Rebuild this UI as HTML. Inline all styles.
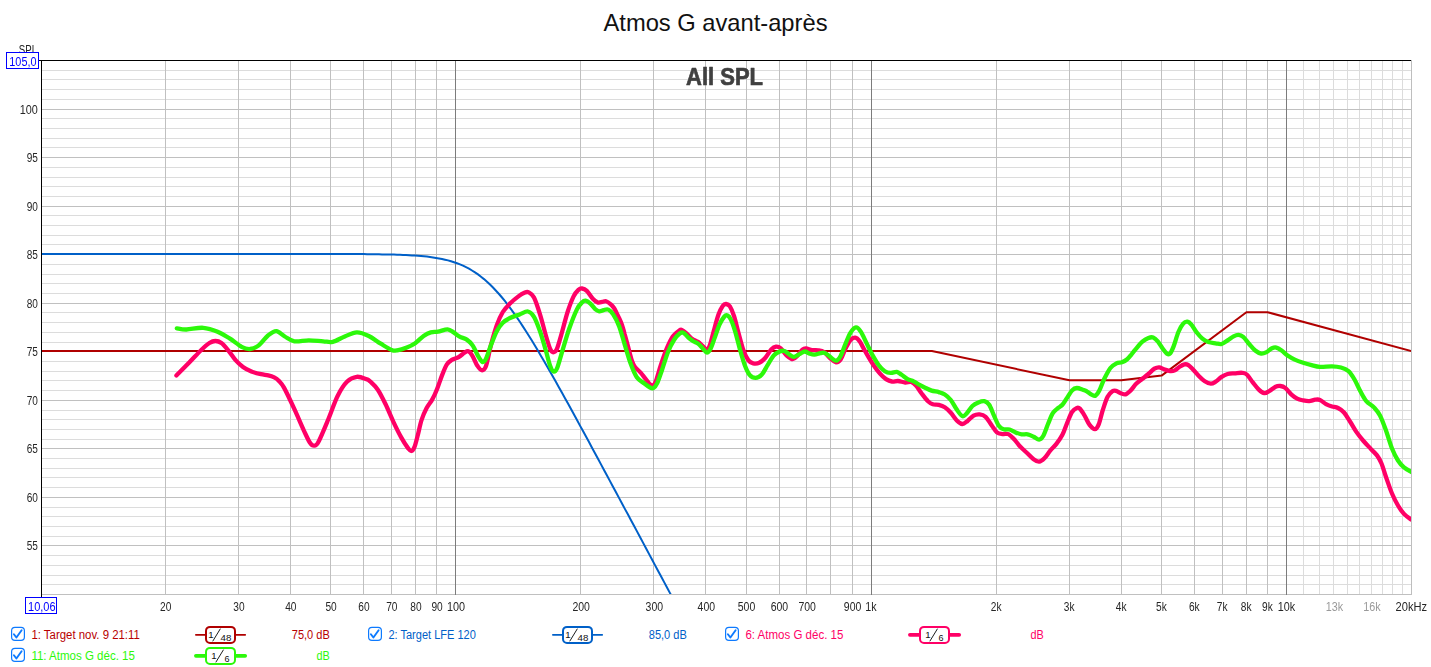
<!DOCTYPE html>
<html lang="fr"><head><meta charset="utf-8"><title>Atmos G avant-après</title>
<style>html,body{margin:0;padding:0;background:#fff;}body{width:1431px;height:667px;overflow:hidden;position:relative;}svg{display:block;position:absolute;left:0;top:0;}svg.graph{will-change:transform;}text{font-family:"Liberation Sans", Arial, sans-serif;}</style></head><body>
<svg class="chrome" width="1431" height="667" viewBox="0 0 1431 667">
<text id="title" x="715.5" y="30.6" text-anchor="middle" font-size="24" fill="#111" textLength="224" lengthAdjust="spacingAndGlyphs">Atmos G avant-après</text>
<rect x="11.6" y="627.4" width="12.8" height="13" rx="3.4" ry="3.4" fill="#fff" stroke="#0d7aff" stroke-width="1.2"/>
<path d="M13.9,634.2 L16.4,637.5 L21.6,630.3" fill="none" stroke="#0d7aff" stroke-width="1.9" stroke-linecap="round" stroke-linejoin="round"/>
<text x="31.4" y="639.0" font-size="12" fill="#b80000" textLength="108.5" lengthAdjust="spacingAndGlyphs">1: Target nov. 9 21:11</text>
<line x1="195.9" y1="634.8" x2="245.2" y2="634.8" stroke="#b00000" stroke-width="1.8" stroke-linecap="round"/>
<rect x="206.0" y="626.9" width="29" height="16" rx="4" ry="4" fill="#fff" stroke="#b00000" stroke-width="2"/>
<text x="208.2" y="638.1" font-size="9.6" fill="#111">1</text>
<line x1="212.7" y1="641.3" x2="220.4" y2="628.7" stroke="#111" stroke-width="0.95"/>
<text x="220.5" y="640.6" font-size="9" fill="#111" textLength="10.8" lengthAdjust="spacingAndGlyphs">48</text>
<text x="329.8" y="639.0" text-anchor="end" font-size="12" fill="#b80000" textLength="38.0" lengthAdjust="spacingAndGlyphs">75,0 dB</text>
<rect x="368.6" y="627.4" width="12.8" height="13" rx="3.4" ry="3.4" fill="#fff" stroke="#0d7aff" stroke-width="1.2"/>
<path d="M370.9,634.2 L373.4,637.5 L378.6,630.3" fill="none" stroke="#0d7aff" stroke-width="1.9" stroke-linecap="round" stroke-linejoin="round"/>
<text x="388.4" y="639.0" font-size="12" fill="#0060c8" textLength="87.5" lengthAdjust="spacingAndGlyphs">2: Target LFE 120</text>
<line x1="552.9" y1="634.8" x2="602.2" y2="634.8" stroke="#0060c8" stroke-width="1.8" stroke-linecap="round"/>
<rect x="563.0" y="626.9" width="29" height="16" rx="4" ry="4" fill="#fff" stroke="#0060c8" stroke-width="2"/>
<text x="565.2" y="638.1" font-size="9.6" fill="#111">1</text>
<line x1="569.7" y1="641.3" x2="577.4" y2="628.7" stroke="#111" stroke-width="0.95"/>
<text x="577.5" y="640.6" font-size="9" fill="#111" textLength="10.8" lengthAdjust="spacingAndGlyphs">48</text>
<text x="686.8" y="639.0" text-anchor="end" font-size="12" fill="#0060c8" textLength="38.0" lengthAdjust="spacingAndGlyphs">85,0 dB</text>
<rect x="725.6" y="627.4" width="12.8" height="13" rx="3.4" ry="3.4" fill="#fff" stroke="#0d7aff" stroke-width="1.2"/>
<path d="M727.9,634.2 L730.4,637.5 L735.6,630.3" fill="none" stroke="#0d7aff" stroke-width="1.9" stroke-linecap="round" stroke-linejoin="round"/>
<text x="745.4" y="639.0" font-size="12" fill="#ff0066" textLength="98.0" lengthAdjust="spacingAndGlyphs">6: Atmos G déc. 15</text>
<line x1="909.9" y1="634.8" x2="959.2" y2="634.8" stroke="#ff0066" stroke-width="3.7" stroke-linecap="round"/>
<rect x="920.0" y="626.9" width="29" height="16" rx="4" ry="4" fill="#fff" stroke="#ff0066" stroke-width="2"/>
<text x="925.3" y="638.1" font-size="9.6" fill="#111">1</text>
<line x1="929.8" y1="641.3" x2="937.5" y2="628.7" stroke="#111" stroke-width="0.95"/>
<text x="938.6" y="640.6" font-size="9" fill="#111">6</text>
<text x="1043.8" y="639.0" text-anchor="end" font-size="12" fill="#ff0066" textLength="13.3" lengthAdjust="spacingAndGlyphs">dB</text>
<rect x="11.6" y="648.4" width="12.8" height="13" rx="3.4" ry="3.4" fill="#fff" stroke="#0d7aff" stroke-width="1.2"/>
<path d="M13.9,655.2 L16.4,658.5 L21.6,651.3" fill="none" stroke="#0d7aff" stroke-width="1.9" stroke-linecap="round" stroke-linejoin="round"/>
<text x="31.4" y="660.0" font-size="12" fill="#2cf80a" textLength="103.5" lengthAdjust="spacingAndGlyphs">11: Atmos G déc. 15</text>
<line x1="195.9" y1="655.8" x2="245.2" y2="655.8" stroke="#2cf80a" stroke-width="3.7" stroke-linecap="round"/>
<rect x="206.0" y="647.9" width="29" height="16" rx="4" ry="4" fill="#fff" stroke="#2cf80a" stroke-width="2"/>
<text x="211.3" y="659.1" font-size="9.6" fill="#111">1</text>
<line x1="215.8" y1="662.3" x2="223.5" y2="649.7" stroke="#111" stroke-width="0.95"/>
<text x="224.6" y="661.6" font-size="9" fill="#111">6</text>
<text x="329.8" y="660.0" text-anchor="end" font-size="12" fill="#2cf80a" textLength="13.3" lengthAdjust="spacingAndGlyphs">dB</text>
</svg>
<svg class="graph" width="1431" height="667" viewBox="0 0 1431 667">
<g shape-rendering="crispEdges">
<rect x="42" y="584" width="1369" height="1" fill="#dcdcdc"/>
<rect x="42" y="575" width="1369" height="1" fill="#dcdcdc"/>
<rect x="42" y="565" width="1369" height="1" fill="#dcdcdc"/>
<rect x="42" y="555" width="1369" height="1" fill="#dcdcdc"/>
<rect x="42" y="536" width="1369" height="1" fill="#dcdcdc"/>
<rect x="42" y="526" width="1369" height="1" fill="#dcdcdc"/>
<rect x="42" y="516" width="1369" height="1" fill="#dcdcdc"/>
<rect x="42" y="507" width="1369" height="1" fill="#dcdcdc"/>
<rect x="42" y="487" width="1369" height="1" fill="#dcdcdc"/>
<rect x="42" y="477" width="1369" height="1" fill="#dcdcdc"/>
<rect x="42" y="468" width="1369" height="1" fill="#dcdcdc"/>
<rect x="42" y="458" width="1369" height="1" fill="#dcdcdc"/>
<rect x="42" y="439" width="1369" height="1" fill="#dcdcdc"/>
<rect x="42" y="429" width="1369" height="1" fill="#dcdcdc"/>
<rect x="42" y="419" width="1369" height="1" fill="#dcdcdc"/>
<rect x="42" y="410" width="1369" height="1" fill="#dcdcdc"/>
<rect x="42" y="390" width="1369" height="1" fill="#dcdcdc"/>
<rect x="42" y="380" width="1369" height="1" fill="#dcdcdc"/>
<rect x="42" y="371" width="1369" height="1" fill="#dcdcdc"/>
<rect x="42" y="361" width="1369" height="1" fill="#dcdcdc"/>
<rect x="42" y="342" width="1369" height="1" fill="#dcdcdc"/>
<rect x="42" y="332" width="1369" height="1" fill="#dcdcdc"/>
<rect x="42" y="322" width="1369" height="1" fill="#dcdcdc"/>
<rect x="42" y="312" width="1369" height="1" fill="#dcdcdc"/>
<rect x="42" y="293" width="1369" height="1" fill="#dcdcdc"/>
<rect x="42" y="283" width="1369" height="1" fill="#dcdcdc"/>
<rect x="42" y="274" width="1369" height="1" fill="#dcdcdc"/>
<rect x="42" y="264" width="1369" height="1" fill="#dcdcdc"/>
<rect x="42" y="244" width="1369" height="1" fill="#dcdcdc"/>
<rect x="42" y="235" width="1369" height="1" fill="#dcdcdc"/>
<rect x="42" y="225" width="1369" height="1" fill="#dcdcdc"/>
<rect x="42" y="215" width="1369" height="1" fill="#dcdcdc"/>
<rect x="42" y="196" width="1369" height="1" fill="#dcdcdc"/>
<rect x="42" y="186" width="1369" height="1" fill="#dcdcdc"/>
<rect x="42" y="177" width="1369" height="1" fill="#dcdcdc"/>
<rect x="42" y="167" width="1369" height="1" fill="#dcdcdc"/>
<rect x="42" y="147" width="1369" height="1" fill="#dcdcdc"/>
<rect x="42" y="138" width="1369" height="1" fill="#dcdcdc"/>
<rect x="42" y="128" width="1369" height="1" fill="#dcdcdc"/>
<rect x="42" y="118" width="1369" height="1" fill="#dcdcdc"/>
<rect x="42" y="99" width="1369" height="1" fill="#dcdcdc"/>
<rect x="42" y="89" width="1369" height="1" fill="#dcdcdc"/>
<rect x="42" y="79" width="1369" height="1" fill="#dcdcdc"/>
<rect x="42" y="70" width="1369" height="1" fill="#dcdcdc"/>
<rect x="1303" y="61" width="1" height="533" fill="#dcdcdc"/>
<rect x="1319" y="61" width="1" height="533" fill="#dcdcdc"/>
<rect x="1333" y="61" width="1" height="533" fill="#dcdcdc"/>
<rect x="1347" y="61" width="1" height="533" fill="#dcdcdc"/>
<rect x="1359" y="61" width="1" height="533" fill="#dcdcdc"/>
<rect x="1371" y="61" width="1" height="533" fill="#dcdcdc"/>
<rect x="1382" y="61" width="1" height="533" fill="#dcdcdc"/>
<rect x="1392" y="61" width="1" height="533" fill="#dcdcdc"/>
<rect x="1402" y="61" width="1" height="533" fill="#dcdcdc"/>
<rect x="1411" y="60" width="1" height="535" fill="#bebebe"/>
<rect x="42" y="594" width="1370" height="1" fill="#c0c0c0"/>
<rect x="42" y="545" width="1370" height="1" fill="#c0c0c0"/>
<rect x="42" y="497" width="1370" height="1" fill="#c0c0c0"/>
<rect x="42" y="448" width="1370" height="1" fill="#c0c0c0"/>
<rect x="42" y="400" width="1370" height="1" fill="#c0c0c0"/>
<rect x="42" y="351" width="1370" height="1" fill="#c0c0c0"/>
<rect x="42" y="303" width="1370" height="1" fill="#c0c0c0"/>
<rect x="42" y="254" width="1370" height="1" fill="#c0c0c0"/>
<rect x="42" y="206" width="1370" height="1" fill="#c0c0c0"/>
<rect x="42" y="157" width="1370" height="1" fill="#c0c0c0"/>
<rect x="42" y="109" width="1370" height="1" fill="#c0c0c0"/>
<rect x="165" y="61" width="1" height="534" fill="#c0c0c0"/>
<rect x="238" y="61" width="1" height="534" fill="#c0c0c0"/>
<rect x="290" y="61" width="1" height="534" fill="#c0c0c0"/>
<rect x="330" y="61" width="1" height="534" fill="#c0c0c0"/>
<rect x="363" y="61" width="1" height="534" fill="#c0c0c0"/>
<rect x="391" y="61" width="1" height="534" fill="#c0c0c0"/>
<rect x="415" y="61" width="1" height="534" fill="#c0c0c0"/>
<rect x="436" y="61" width="1" height="534" fill="#c0c0c0"/>
<rect x="580" y="61" width="1" height="534" fill="#c0c0c0"/>
<rect x="653" y="61" width="1" height="534" fill="#c0c0c0"/>
<rect x="705" y="61" width="1" height="534" fill="#c0c0c0"/>
<rect x="746" y="61" width="1" height="534" fill="#c0c0c0"/>
<rect x="779" y="61" width="1" height="534" fill="#c0c0c0"/>
<rect x="806" y="61" width="1" height="534" fill="#c0c0c0"/>
<rect x="830" y="61" width="1" height="534" fill="#c0c0c0"/>
<rect x="852" y="61" width="1" height="534" fill="#c0c0c0"/>
<rect x="996" y="61" width="1" height="534" fill="#c0c0c0"/>
<rect x="1069" y="61" width="1" height="534" fill="#c0c0c0"/>
<rect x="1121" y="61" width="1" height="534" fill="#c0c0c0"/>
<rect x="1161" y="61" width="1" height="534" fill="#c0c0c0"/>
<rect x="1194" y="61" width="1" height="534" fill="#c0c0c0"/>
<rect x="1222" y="61" width="1" height="534" fill="#c0c0c0"/>
<rect x="1246" y="61" width="1" height="534" fill="#c0c0c0"/>
<rect x="1267" y="61" width="1" height="534" fill="#c0c0c0"/>
<rect x="455" y="61" width="1" height="534" fill="#7c7c7c"/>
<rect x="871" y="61" width="1" height="534" fill="#7c7c7c"/>
<rect x="1286" y="61" width="1" height="534" fill="#7c7c7c"/>
</g>
<text id="allspl" x="724.5" y="84.8" text-anchor="middle" font-size="24.5" font-weight="bold" fill="#404040" stroke="#404040" stroke-width="0.7" stroke-linejoin="round" textLength="77" lengthAdjust="spacingAndGlyphs">All SPL</text>
<clipPath id="pc"><rect x="42" y="61" width="1369" height="533"/></clipPath>
<g clip-path="url(#pc)" fill="none" stroke-linejoin="round" stroke-linecap="round">
<polyline stroke="#b00000" stroke-width="2" points="40.0,351.1 931.9,351.1 1069.4,380.2 1121.3,380.2 1161.6,375.6 1246.4,312.2 1267.6,312.2 1411.7,351.1"/>
<polyline stroke="#0060c8" stroke-width="2" points="40.0,254.0 43.0,254.0 46.0,254.0 49.0,254.0 52.0,254.0 55.0,254.0 58.0,254.0 61.0,254.0 64.0,254.0 67.0,254.0 70.0,254.0 73.0,254.0 76.0,254.0 79.0,254.0 82.0,254.0 85.0,254.0 88.0,254.0 91.0,254.0 94.0,254.0 97.0,254.0 100.0,254.0 103.0,254.0 106.0,254.0 109.0,254.0 112.0,254.0 115.0,254.0 118.0,254.0 121.0,254.0 124.0,254.0 127.0,254.0 130.0,254.0 133.0,254.0 136.0,254.0 139.0,254.0 142.0,254.0 145.0,254.0 148.0,254.0 151.0,254.0 154.0,254.0 157.0,254.0 160.0,254.0 163.0,254.0 166.0,254.0 169.0,254.0 172.0,254.0 175.0,254.0 178.0,254.0 181.0,254.0 184.0,254.0 187.0,254.0 190.0,254.0 193.0,254.0 196.0,254.0 199.0,254.0 202.0,254.0 205.0,254.0 208.0,254.0 211.0,254.0 214.0,254.0 217.0,254.0 220.0,254.0 223.0,254.0 226.0,254.0 229.0,254.0 232.0,254.0 235.0,254.0 238.0,254.0 241.0,254.0 244.0,254.0 247.0,254.0 250.0,254.0 253.0,254.0 256.0,254.0 259.0,254.0 262.0,254.0 265.0,254.0 268.0,254.0 271.0,254.0 274.0,254.0 277.0,254.0 280.0,254.0 283.0,254.0 286.0,254.0 289.0,254.0 292.0,254.0 295.0,254.0 298.0,254.0 301.0,254.0 304.0,254.0 307.0,254.0 310.0,254.0 313.0,254.0 316.0,254.0 319.0,254.0 322.0,254.0 325.0,254.0 328.0,254.0 331.0,254.0 334.0,254.0 337.0,254.0 340.0,254.0 343.0,254.0 346.0,254.1 349.0,254.1 352.0,254.1 355.0,254.1 358.0,254.1 361.0,254.1 364.0,254.1 367.0,254.2 370.0,254.2 373.0,254.2 376.0,254.3 379.0,254.3 382.0,254.4 385.0,254.4 388.0,254.5 391.0,254.5 394.0,254.6 397.0,254.7 400.0,254.8 403.0,254.9 406.0,255.0 409.0,255.2 412.0,255.4 415.0,255.6 418.0,255.8 421.0,256.0 424.0,256.3 427.0,256.6 430.0,257.0 433.0,257.4 436.0,257.9 439.0,258.4 442.0,259.0 445.0,259.7 448.0,260.4 451.0,261.3 454.0,262.2 457.0,263.3 460.0,264.4 463.0,265.7 466.0,267.2 469.0,268.7 472.0,270.5 475.0,272.4 478.0,274.4 481.0,276.7 484.0,279.1 487.0,281.7 490.0,284.5 493.0,287.5 496.0,290.7 499.0,294.0 502.0,297.5 505.0,301.2 508.0,305.1 511.0,309.1 514.0,313.3 517.0,317.6 520.0,322.0 523.0,326.6 526.0,331.2 529.0,336.0 532.0,340.8 535.0,345.8 538.0,350.8 541.0,355.9 544.0,361.0 547.0,366.2 550.0,371.4 553.0,376.7 556.0,382.0 559.0,387.4 562.0,392.8 565.0,398.2 568.0,403.6 571.0,409.1 574.0,414.6 577.0,420.0 580.0,425.6 583.0,431.1 586.0,436.6 589.0,442.1 592.0,447.7 595.0,453.2 598.0,458.8 601.0,464.4 604.0,469.9 607.0,475.5 610.0,481.1 613.0,486.7 616.0,492.3 619.0,497.9 622.0,503.5 625.0,509.1 628.0,514.6 631.0,520.2 634.0,525.8 637.0,531.4 640.0,537.0 643.0,542.6 646.0,548.3 649.0,553.9 652.0,559.5 655.0,565.1 658.0,570.7 661.0,576.3 664.0,581.9 667.0,587.5 670.0,593.1 673.0,598.7 676.0,604.3 679.0,609.9 682.0,615.5 685.0,621.1 688.0,626.7 691.0,632.3 694.0,638.0 697.0,643.6"/>
<path stroke="#ff0066" stroke-width="4.3" d="M176.4,375.4C178.5,373.3 184.9,367.0 189.0,362.8C193.1,358.6 197.6,353.5 201.0,350.2C204.4,346.9 207.0,344.5 209.4,343.0C211.8,341.5 213.4,341.0 215.4,341.0C217.4,341.0 219.2,341.4 221.4,343.0C223.6,344.6 226.2,347.9 228.6,350.8C231.0,353.7 233.4,357.7 235.8,360.4C238.2,363.1 240.4,365.1 243.0,367.0C245.6,368.9 248.4,370.3 251.4,371.5C254.4,372.7 258.2,373.6 261.0,374.2C263.8,374.8 266.0,374.9 268.2,375.4C270.4,375.9 272.4,376.5 274.2,377.4C276.0,378.3 277.4,379.3 279.0,381.0C280.6,382.7 281.4,382.9 284.0,387.6C286.6,392.3 291.1,402.0 294.4,409.2C297.7,416.4 301.4,425.2 304.0,430.8C306.6,436.4 308.3,440.3 310.0,442.8C311.7,445.3 312.6,445.8 314.0,445.7C315.4,445.6 316.1,446.3 318.4,442.0C320.7,437.7 324.8,427.7 328.0,420.0C331.2,412.3 334.4,402.4 337.6,396.0C340.8,389.6 344.0,384.8 347.2,381.6C350.4,378.4 353.6,377.2 356.8,376.8C360.0,376.4 364.2,378.4 366.4,379.2C368.6,379.9 368.1,379.6 370.0,381.3C371.9,383.1 375.2,385.9 377.8,389.7C380.4,393.5 383.0,398.9 385.6,404.3C388.2,409.7 390.8,416.3 393.4,421.8C396.0,427.3 398.8,433.0 401.2,437.4C403.6,441.8 406.3,445.8 408.0,448.1C409.7,450.4 410.2,451.2 411.3,451.0C412.4,450.8 413.3,449.7 414.4,447.1C415.5,444.5 416.5,440.0 417.7,435.5C418.9,431.0 420.1,424.4 421.6,419.9C423.1,415.3 424.7,411.6 426.5,408.2C428.3,404.8 430.5,402.6 432.3,399.4C434.1,396.1 435.6,392.8 437.2,388.7C438.8,384.6 440.5,379.2 442.1,375.1C443.7,371.1 445.3,366.9 446.9,364.4C448.5,361.9 449.9,361.1 451.8,359.9C453.8,358.7 456.5,358.3 458.6,357.1C460.7,355.9 462.9,353.7 464.5,352.7C466.1,351.7 467.1,350.8 468.4,351.3C469.7,351.8 470.9,353.3 472.3,355.6C473.8,357.9 475.6,362.9 477.1,365.3C478.7,367.7 480.1,370.0 481.6,370.2C483.1,370.4 484.4,370.4 485.9,366.3C487.4,362.2 489.0,352.5 490.8,345.6C492.6,338.8 494.8,330.8 496.8,325.2C498.8,319.6 500.6,315.6 502.8,312.0C505.0,308.4 507.4,306.2 510.0,303.6C512.6,301.0 516.0,298.2 518.4,296.4C520.8,294.6 522.7,293.5 524.4,292.8C526.1,292.1 527.1,291.5 528.7,292.3C530.3,293.1 532.1,293.9 534.0,297.6C535.9,301.3 538.0,308.0 540.0,314.4C542.0,320.8 544.3,330.2 546.0,336.0C547.7,341.8 549.1,346.5 550.3,349.2C551.5,351.9 552.1,352.3 553.2,352.3C554.3,352.3 555.4,352.3 556.8,349.2C558.2,346.1 559.8,339.8 561.6,333.6C563.4,327.4 565.6,318.2 567.6,312.0C569.6,305.8 571.8,300.1 573.6,296.4C575.4,292.7 577.0,291.2 578.4,289.9C579.8,288.6 580.6,288.3 582.0,288.5C583.4,288.7 585.0,289.2 586.8,290.9C588.6,292.6 591.0,296.9 592.8,298.8C594.6,300.7 596.0,301.9 597.6,302.4C599.2,302.9 601.0,302.1 602.4,301.9C603.8,301.7 604.6,300.8 606.0,301.2C607.4,301.6 609.5,303.2 610.8,304.3C612.1,305.4 613.0,306.5 614.0,308.0C615.0,309.5 615.9,311.7 616.8,313.5C617.7,315.3 618.6,317.1 619.5,319.0C620.4,320.9 621.1,322.5 622.0,325.0C622.9,327.5 623.8,331.0 624.6,334.0C625.5,337.0 626.3,339.9 627.1,343.0C627.9,346.1 628.8,349.5 629.6,352.5C630.4,355.5 631.1,358.6 632.0,361.0C632.9,363.4 633.4,364.9 634.8,366.8C636.2,368.7 638.7,370.5 640.4,372.4C642.1,374.3 643.6,376.4 645.2,378.4C646.8,380.4 648.7,383.2 650.0,384.4C651.3,385.6 652.1,386.2 653.1,385.6C654.1,385.0 654.7,384.2 656.0,380.8C657.3,377.4 659.0,370.6 660.8,365.2C662.6,359.8 664.8,353.2 666.8,348.4C668.8,343.6 670.8,339.3 672.8,336.4C674.8,333.5 677.3,332.0 678.8,330.9C680.3,329.8 680.5,329.4 681.9,329.9C683.3,330.4 685.5,332.5 687.2,334.0C688.9,335.5 690.2,337.5 692.0,338.8C693.8,340.1 696.2,340.7 698.0,341.9C699.8,343.1 701.3,344.7 702.8,346.0C704.3,347.3 705.7,349.8 706.9,349.6C708.1,349.4 708.9,347.8 710.0,344.8C711.1,341.8 712.2,336.6 713.6,331.6C715.0,326.6 716.9,319.1 718.4,314.8C719.9,310.5 721.4,307.7 722.7,305.9C724.0,304.1 724.9,303.9 726.1,304.0C727.3,304.1 728.6,304.4 729.9,306.4C731.2,308.4 732.5,311.4 734.0,316.0C735.5,320.6 737.2,328.2 738.8,334.0C740.4,339.8 742.0,346.4 743.6,350.8C745.2,355.2 746.8,358.3 748.4,360.4C750.0,362.5 751.4,362.9 753.2,363.3C755.0,363.7 757.2,363.7 759.2,362.8C761.2,361.9 763.2,360.2 765.2,358.0C767.2,355.8 769.4,351.5 771.2,349.6C773.0,347.7 774.4,346.9 776.0,346.7C777.6,346.5 779.0,346.9 780.8,348.4C782.6,349.9 784.8,353.8 786.8,355.6C788.8,357.4 791.0,359.2 792.8,359.2C794.6,359.2 796.0,357.2 797.6,355.6C799.2,354.0 801.0,350.8 802.4,349.6C803.8,348.4 804.4,348.3 806.0,348.4C807.6,348.5 810.0,349.8 812.0,350.1C814.0,350.4 816.0,350.0 818.0,350.3C820.0,350.6 822.0,350.7 824.0,352.0C826.0,353.3 828.0,356.3 830.0,358.0C832.0,359.7 834.2,362.1 836.0,362.3C837.8,362.5 839.2,361.5 840.8,359.2C842.4,356.9 844.0,351.6 845.6,348.4C847.2,345.2 848.8,341.8 850.4,340.0C852.0,338.2 853.8,337.4 855.3,337.6C856.8,337.8 857.9,338.8 859.6,341.2C861.3,343.6 863.4,348.2 865.6,352.0C867.8,355.8 870.4,360.4 872.8,364.0C875.2,367.6 877.8,371.1 880.0,373.6C882.2,376.1 884.0,377.8 886.0,379.1C888.0,380.4 890.0,381.2 892.0,381.5C894.0,381.8 895.8,380.8 898.0,381.0C900.2,381.2 903.0,382.3 905.2,382.5C907.4,382.7 909.4,381.5 911.2,382.0C913.0,382.5 914.2,383.6 916.0,385.6C917.8,387.6 920.0,391.4 922.0,394.0C924.0,396.6 926.2,399.5 928.0,401.2C929.8,402.9 931.0,403.7 932.8,404.3C934.6,404.9 936.8,404.3 938.8,404.8C940.8,405.3 942.8,405.9 944.8,407.2C946.8,408.5 948.8,410.5 950.8,412.7C952.8,414.9 954.9,418.5 956.8,420.4C958.7,422.3 960.5,423.9 962.3,424.0C964.1,424.1 965.7,422.3 967.6,420.9C969.5,419.5 971.6,416.7 973.6,415.6C975.6,414.5 977.6,414.2 979.6,414.4C981.6,414.6 983.6,415.0 985.6,416.8C987.6,418.6 989.7,422.6 991.6,425.2C993.5,427.8 995.1,430.9 996.9,432.4C998.7,433.9 1000.5,433.8 1002.4,434.1C1004.3,434.4 1006.4,433.2 1008.4,434.1C1010.4,435.0 1012.4,437.5 1014.4,439.6C1016.4,441.7 1018.2,444.5 1020.4,446.8C1022.6,449.1 1025.4,451.4 1027.6,453.5C1029.8,455.6 1031.7,457.9 1033.6,459.3C1035.5,460.7 1037.3,461.9 1039.1,461.7C1040.9,461.5 1042.5,460.2 1044.4,458.3C1046.3,456.4 1048.4,452.8 1050.4,450.4C1052.4,448.0 1054.4,446.5 1056.4,443.9C1058.4,441.3 1060.6,438.3 1062.4,434.8C1064.2,431.3 1065.6,426.6 1067.2,422.8C1068.8,419.0 1070.4,414.5 1072.0,412.0C1073.6,409.5 1075.5,408.4 1076.8,407.9C1078.1,407.4 1078.7,407.4 1080.0,408.8C1081.3,410.2 1083.2,413.3 1084.8,416.0C1086.4,418.7 1087.9,422.7 1089.6,424.9C1091.3,427.1 1093.4,429.3 1094.9,429.2C1096.4,429.1 1097.4,427.6 1098.7,424.4C1100.0,421.2 1101.3,414.6 1102.8,410.0C1104.3,405.4 1106.0,399.9 1107.6,396.8C1109.2,393.7 1111.0,392.3 1112.4,391.3C1113.8,390.3 1114.6,390.5 1116.0,390.8C1117.4,391.1 1119.2,392.6 1120.8,393.2C1122.4,393.8 1124.0,394.8 1125.6,394.4C1127.2,394.0 1128.6,392.6 1130.4,390.8C1132.2,389.0 1134.4,385.6 1136.4,383.6C1138.4,381.6 1140.4,380.4 1142.4,378.8C1144.4,377.2 1146.4,375.7 1148.4,374.0C1150.4,372.3 1152.6,369.8 1154.4,368.7C1156.2,367.6 1157.6,367.2 1159.2,367.3C1160.8,367.4 1162.2,368.6 1164.0,369.2C1165.8,369.8 1168.2,370.9 1170.0,371.1C1171.8,371.3 1173.2,371.1 1174.8,370.4C1176.4,369.7 1178.0,367.8 1179.6,366.8C1181.2,365.8 1183.0,364.7 1184.4,364.4C1185.8,364.1 1186.6,364.1 1188.0,364.9C1189.4,365.7 1191.0,367.4 1192.8,369.2C1194.6,371.0 1196.8,373.9 1198.8,375.9C1200.8,377.9 1202.8,379.9 1204.8,381.2C1206.8,382.5 1209.0,383.5 1210.8,383.6C1212.6,383.7 1213.8,382.8 1215.6,381.7C1217.4,380.6 1219.6,378.2 1221.6,376.9C1223.6,375.6 1225.4,374.6 1227.6,374.0C1229.8,373.4 1232.4,373.5 1234.8,373.3C1237.2,373.1 1240.0,372.6 1242.0,372.8C1244.0,373.0 1245.0,372.9 1246.8,374.5C1248.6,376.1 1250.8,379.9 1252.8,382.4C1254.8,384.9 1256.9,387.8 1258.8,389.6C1260.7,391.4 1262.5,393.0 1264.3,393.2C1266.1,393.4 1267.7,391.9 1269.6,390.8C1271.5,389.7 1273.8,387.5 1275.6,386.7C1277.4,385.9 1278.8,385.8 1280.4,386.0C1282.0,386.2 1283.4,386.5 1285.2,387.9C1287.0,389.3 1289.2,392.6 1291.2,394.4C1293.2,396.2 1295.2,397.7 1297.2,398.7C1299.2,399.7 1301.2,400.0 1303.2,400.4C1305.2,400.8 1307.2,401.2 1309.2,401.1C1311.2,401.0 1313.4,399.9 1315.2,399.7C1317.0,399.5 1318.2,399.2 1320.0,399.9C1321.8,400.6 1324.0,403.0 1326.0,404.1C1328.0,405.2 1330.0,405.9 1332.0,406.5C1334.0,407.1 1336.0,407.0 1338.0,408.0C1340.0,409.0 1342.0,410.2 1344.0,412.5C1346.0,414.8 1348.0,418.4 1350.0,421.5C1352.0,424.6 1353.8,428.1 1356.0,431.4C1358.2,434.6 1361.0,438.1 1363.5,441.0C1366.0,443.9 1368.8,446.7 1371.0,449.1C1373.2,451.5 1375.2,453.0 1377.0,455.4C1378.8,457.8 1380.0,459.9 1381.5,463.5C1383.0,467.1 1384.2,472.0 1386.0,477.0C1387.8,482.0 1390.0,488.8 1392.0,493.5C1394.0,498.2 1396.0,502.1 1398.0,505.5C1400.0,508.9 1401.8,511.5 1404.0,513.9C1406.2,516.2 1409.2,518.2 1411.2,519.6C1413.2,521.0 1415.2,522.0 1416.0,522.5"/>
<path stroke="#2cf80a" stroke-width="4.3" d="M176.8,328.3C178.4,328.5 182.0,329.6 186.4,329.5C190.8,329.4 198.0,327.4 203.2,327.8C208.4,328.2 213.2,329.9 217.6,331.7C222.0,333.5 225.6,335.9 229.6,338.4C233.6,340.9 238.2,345.0 241.6,346.8C245.0,348.6 247.2,349.2 250.0,349.0C252.8,348.8 255.4,347.9 258.4,345.6C261.4,343.4 265.0,337.9 268.0,335.5C271.0,333.1 273.6,331.0 276.4,331.2C279.2,331.4 281.8,334.8 284.8,336.5C287.8,338.2 290.4,340.7 294.4,341.3C298.4,341.9 304.0,340.3 308.8,340.3C313.6,340.3 319.2,341.1 323.2,341.3C327.2,341.6 329.2,342.6 332.8,341.8C336.4,341.0 340.8,338.1 344.8,336.5C348.8,334.9 352.8,332.5 356.8,332.4C360.8,332.3 364.8,334.1 368.8,336.0C372.8,337.9 377.0,341.4 380.8,343.7C384.6,346.0 388.9,348.8 391.6,349.9C394.3,351.0 394.7,350.8 397.2,350.4C399.7,350.0 403.8,348.7 406.8,347.5C409.8,346.3 412.4,345.1 415.2,343.2C418.0,341.3 421.0,337.8 423.6,336.0C426.2,334.2 428.4,333.1 430.8,332.4C433.2,331.7 435.2,332.2 438.0,331.7C440.8,331.2 445.0,329.2 447.6,329.3C450.2,329.4 451.6,331.2 453.6,332.4C455.6,333.6 457.4,335.5 459.6,336.7C461.8,337.9 464.6,338.1 466.8,339.6C469.0,341.1 471.0,343.0 472.8,345.6C474.6,348.2 476.0,352.5 477.6,355.2C479.2,357.9 481.0,361.3 482.4,361.9C483.8,362.5 484.6,361.5 486.0,358.8C487.4,356.1 489.0,350.2 490.8,345.6C492.6,341.0 494.8,335.0 496.8,331.2C498.8,327.4 500.6,325.0 502.8,322.8C505.0,320.6 507.2,319.4 510.0,318.0C512.8,316.6 516.6,315.5 519.6,314.4C522.6,313.3 525.6,311.1 528.0,311.5C530.4,311.9 532.0,313.5 534.0,316.8C536.0,320.1 538.0,325.6 540.0,331.2C542.0,336.8 544.1,344.6 545.8,350.4C547.5,356.2 548.9,362.5 550.2,366.0C551.5,369.5 552.5,371.2 553.6,371.6C554.7,372.0 555.6,371.5 557.0,368.4C558.4,365.3 559.8,359.4 561.8,352.8C563.8,346.2 566.7,336.0 569.2,328.8C571.7,321.6 574.7,314.0 576.8,309.6C578.9,305.2 580.5,303.9 582.0,302.4C583.5,300.9 584.2,300.5 585.6,300.7C587.0,300.9 588.8,302.2 590.4,303.6C592.0,305.0 593.7,307.8 595.2,309.1C596.7,310.4 597.9,311.1 599.3,311.3C600.7,311.5 602.1,310.4 603.6,310.1C605.1,309.8 606.8,308.9 608.4,309.6C610.0,310.3 611.4,311.6 613.2,314.4C615.0,317.2 617.3,321.3 619.2,326.4C621.1,331.5 622.9,338.5 624.8,344.8C626.7,351.1 628.8,358.6 630.8,364.0C632.8,369.4 634.6,374.0 636.8,377.2C639.0,380.4 641.8,381.5 644.0,383.2C646.2,384.9 648.4,386.7 650.0,387.5C651.6,388.3 652.4,388.7 653.6,388.0C654.8,387.3 655.8,386.2 657.2,383.2C658.6,380.2 660.2,375.2 662.0,370.0C663.8,364.8 666.0,357.0 668.0,352.0C670.0,347.0 672.0,343.1 674.0,340.0C676.0,336.9 678.4,334.5 680.0,333.3C681.6,332.1 682.2,332.1 683.6,332.8C685.0,333.5 686.8,336.2 688.4,337.6C690.0,339.0 691.6,340.2 693.2,341.2C694.8,342.2 696.4,342.4 698.0,343.6C699.6,344.8 701.3,346.9 702.8,348.4C704.3,349.9 705.6,352.7 706.9,352.7C708.2,352.7 709.4,350.9 710.7,348.4C712.0,345.9 713.3,341.6 714.8,337.6C716.3,333.6 718.0,327.9 719.6,324.4C721.2,320.9 723.1,318.0 724.4,316.5C725.7,315.0 726.4,315.0 727.5,315.5C728.6,316.0 729.6,316.9 730.9,319.6C732.2,322.3 733.7,326.6 735.2,331.6C736.7,336.6 738.4,344.0 740.0,349.6C741.6,355.2 743.2,361.0 744.8,365.2C746.4,369.4 747.8,372.7 749.6,374.8C751.4,376.9 753.6,377.9 755.6,377.9C757.6,377.9 759.6,376.9 761.6,374.8C763.6,372.7 765.6,368.4 767.6,365.2C769.6,362.0 771.6,357.9 773.6,355.6C775.6,353.3 777.8,352.3 779.6,351.5C781.4,350.7 782.8,350.5 784.4,351.0C786.0,351.5 787.6,353.4 789.2,354.4C790.8,355.4 792.2,356.9 794.0,356.8C795.8,356.7 798.2,354.8 800.0,353.9C801.8,353.0 803.2,351.5 804.8,351.5C806.4,351.5 808.0,353.2 809.6,353.7C811.2,354.2 812.6,354.7 814.4,354.6C816.2,354.5 818.8,353.5 820.4,353.2C822.0,352.9 822.6,352.3 824.0,352.7C825.4,353.1 827.2,354.4 828.8,355.6C830.4,356.8 832.2,358.9 833.6,359.7C835.0,360.5 836.0,361.1 837.2,360.4C838.4,359.7 839.4,358.4 840.8,355.6C842.2,352.8 844.0,347.4 845.6,343.6C847.2,339.8 848.7,335.5 850.4,332.8C852.1,330.1 854.3,327.5 856.0,327.3C857.7,327.1 859.0,328.9 860.8,331.6C862.6,334.3 864.8,339.6 866.8,343.6C868.8,347.6 870.8,352.0 872.8,355.6C874.8,359.2 876.8,362.6 878.8,365.2C880.8,367.8 882.8,369.9 884.8,371.2C886.8,372.5 888.8,372.8 890.8,372.9C892.8,373.0 895.0,371.6 896.8,371.9C898.6,372.2 899.8,373.6 901.6,374.8C903.4,376.0 905.6,378.0 907.6,379.1C909.6,380.2 911.6,380.3 913.6,381.3C915.6,382.3 917.6,383.8 919.6,384.9C921.6,386.0 923.6,387.1 925.6,388.0C927.6,388.9 929.4,389.9 931.6,390.6C933.8,391.3 936.6,391.5 938.8,392.1C941.0,392.8 942.8,393.2 944.8,394.5C946.8,395.8 948.8,397.5 950.8,400.0C952.8,402.5 954.9,406.9 956.8,409.6C958.7,412.3 960.7,415.4 962.3,416.1C963.9,416.8 964.7,415.4 966.4,413.7C968.1,412.0 970.4,407.9 972.4,406.0C974.4,404.1 976.4,403.2 978.4,402.4C980.4,401.6 982.6,400.8 984.4,401.2C986.2,401.6 987.6,402.4 989.2,404.8C990.8,407.2 992.4,412.1 994.0,415.6C995.6,419.1 997.2,423.4 998.8,425.7C1000.4,428.0 1001.8,428.7 1003.6,429.3C1005.4,429.9 1007.6,429.0 1009.6,429.5C1011.6,430.0 1013.6,431.6 1015.6,432.4C1017.6,433.2 1019.6,434.0 1021.6,434.3C1023.6,434.6 1025.6,433.9 1027.6,434.3C1029.6,434.7 1031.7,435.8 1033.6,436.7C1035.5,437.6 1037.5,439.7 1039.1,439.6C1040.7,439.5 1041.7,438.6 1043.2,436.0C1044.7,433.4 1046.4,427.8 1048.0,424.0C1049.6,420.2 1051.2,415.8 1052.8,413.2C1054.4,410.6 1056.0,409.8 1057.6,408.4C1059.2,407.0 1060.8,406.6 1062.4,404.8C1064.0,403.0 1065.6,400.0 1067.2,397.6C1068.8,395.2 1070.4,392.0 1072.0,390.4C1073.6,388.8 1075.0,388.1 1076.8,388.0C1078.6,387.9 1081.3,389.2 1082.8,389.7C1084.3,390.2 1084.5,389.9 1086.0,390.8C1087.5,391.7 1090.4,394.1 1092.0,394.9C1093.6,395.7 1094.4,396.3 1095.6,395.6C1096.8,394.9 1097.8,393.6 1099.2,390.8C1100.7,388.0 1102.4,382.6 1104.3,378.8C1106.2,375.0 1108.4,370.6 1110.4,368.0C1112.4,365.4 1114.5,364.4 1116.4,363.4C1118.3,362.4 1120.2,362.9 1122.0,362.2C1123.8,361.5 1125.7,360.4 1127.2,359.2C1128.7,358.0 1129.9,356.4 1131.2,354.8C1132.5,353.2 1133.4,351.8 1135.3,349.6C1137.2,347.4 1140.2,343.5 1142.4,341.6C1144.6,339.7 1146.6,338.7 1148.4,338.0C1150.2,337.3 1151.6,336.9 1153.2,337.5C1154.8,338.1 1156.4,339.7 1158.0,341.6C1159.6,343.5 1161.3,346.8 1162.8,348.8C1164.3,350.8 1165.7,352.8 1166.9,353.6C1168.1,354.4 1168.9,354.8 1170.0,353.6C1171.1,352.4 1172.2,350.0 1173.6,346.4C1175.0,342.8 1176.8,335.8 1178.4,332.0C1180.0,328.2 1181.7,325.3 1183.2,323.6C1184.7,321.9 1186.1,321.5 1187.5,321.7C1188.9,321.9 1190.1,323.1 1191.6,324.8C1193.1,326.5 1194.6,329.7 1196.4,332.0C1198.2,334.3 1200.4,337.0 1202.4,338.7C1204.4,340.4 1206.2,341.3 1208.4,342.1C1210.6,342.9 1213.4,343.0 1215.6,343.3C1217.8,343.6 1219.6,344.5 1221.6,344.0C1223.6,343.5 1225.6,341.7 1227.6,340.4C1229.6,339.1 1231.8,337.2 1233.6,336.3C1235.4,335.4 1236.8,334.8 1238.4,334.9C1240.0,335.0 1241.4,335.3 1243.2,336.8C1245.0,338.3 1247.2,341.7 1249.2,344.0C1251.2,346.3 1253.2,348.9 1255.2,350.5C1257.2,352.1 1259.4,353.3 1261.2,353.6C1263.0,353.9 1264.2,353.3 1266.0,352.4C1267.8,351.5 1270.3,349.1 1272.0,348.3C1273.7,347.5 1274.7,347.2 1276.3,347.6C1277.9,348.0 1279.7,349.2 1281.6,350.5C1283.5,351.8 1285.4,354.0 1287.6,355.5C1289.8,357.0 1292.2,358.4 1294.8,359.6C1297.4,360.8 1300.4,361.8 1303.2,362.7C1306.0,363.6 1308.8,364.4 1311.6,365.1C1314.4,365.8 1316.6,366.6 1320.0,366.8C1323.4,367.0 1328.5,366.2 1332.0,366.3C1335.5,366.4 1338.2,366.7 1341.0,367.5C1343.8,368.3 1346.2,369.1 1348.5,371.1C1350.8,373.1 1352.5,376.1 1354.5,379.5C1356.5,382.9 1358.5,387.9 1360.5,391.5C1362.5,395.1 1364.2,398.8 1366.5,401.4C1368.8,404.0 1371.8,405.0 1374.0,407.4C1376.2,409.8 1378.0,411.6 1380.0,415.5C1382.0,419.4 1384.0,425.0 1386.0,430.5C1388.0,436.0 1390.0,443.5 1392.0,448.5C1394.0,453.5 1396.0,457.4 1398.0,460.5C1400.0,463.6 1401.8,465.5 1404.0,467.4C1406.2,469.3 1409.2,470.8 1411.2,471.9C1413.2,473.0 1415.2,473.6 1416.0,474.0"/>
</g>
<g shape-rendering="crispEdges"><rect x="41" y="60" width="1" height="537" fill="#000"/><rect x="39" y="60" width="1372" height="1" fill="#000"/></g>
<text x="27.9" y="53.6" text-anchor="middle" font-size="12" fill="#222" textLength="18.2" lengthAdjust="spacingAndGlyphs">SPL</text>
<text x="37.9" y="549.8" text-anchor="end" font-size="12" fill="#262626" textLength="11.2" lengthAdjust="spacingAndGlyphs">55</text>
<text x="37.9" y="501.8" text-anchor="end" font-size="12" fill="#262626" textLength="11.2" lengthAdjust="spacingAndGlyphs">60</text>
<text x="37.9" y="452.8" text-anchor="end" font-size="12" fill="#262626" textLength="11.2" lengthAdjust="spacingAndGlyphs">65</text>
<text x="37.9" y="404.8" text-anchor="end" font-size="12" fill="#262626" textLength="11.2" lengthAdjust="spacingAndGlyphs">70</text>
<text x="37.9" y="355.8" text-anchor="end" font-size="12" fill="#262626" textLength="11.2" lengthAdjust="spacingAndGlyphs">75</text>
<text x="37.9" y="307.8" text-anchor="end" font-size="12" fill="#262626" textLength="11.2" lengthAdjust="spacingAndGlyphs">80</text>
<text x="37.9" y="258.8" text-anchor="end" font-size="12" fill="#262626" textLength="11.2" lengthAdjust="spacingAndGlyphs">85</text>
<text x="37.9" y="210.8" text-anchor="end" font-size="12" fill="#262626" textLength="11.2" lengthAdjust="spacingAndGlyphs">90</text>
<text x="37.9" y="161.8" text-anchor="end" font-size="12" fill="#262626" textLength="11.2" lengthAdjust="spacingAndGlyphs">95</text>
<text x="37.9" y="113.8" text-anchor="end" font-size="12" fill="#262626" textLength="18.1" lengthAdjust="spacingAndGlyphs">100</text>
<rect x="6.5" y="52.5" width="32" height="16" fill="#fff" stroke="#0000ff" stroke-width="1" shape-rendering="crispEdges"/>
 <text x="22.9" y="65.8" text-anchor="middle" font-size="12" fill="#0000ff" textLength="27.2" lengthAdjust="spacingAndGlyphs">105,0</text>
<rect x="25.5" y="597.5" width="31" height="16" fill="#fff" stroke="#0000ff" stroke-width="1" shape-rendering="crispEdges"/>
<text x="41.8" y="611" text-anchor="middle" font-size="12" fill="#0000ff" textLength="27.6" lengthAdjust="spacingAndGlyphs">10,06</text>
<text x="165.7" y="610.8" text-anchor="middle" font-size="12" fill="#262626" textLength="11.3" lengthAdjust="spacingAndGlyphs">20</text>
<text x="238.9" y="610.8" text-anchor="middle" font-size="12" fill="#262626" textLength="11.3" lengthAdjust="spacingAndGlyphs">30</text>
<text x="290.8" y="610.8" text-anchor="middle" font-size="12" fill="#262626" textLength="11.3" lengthAdjust="spacingAndGlyphs">40</text>
<text x="331.1" y="610.8" text-anchor="middle" font-size="12" fill="#262626" textLength="11.3" lengthAdjust="spacingAndGlyphs">50</text>
<text x="363.9" y="610.8" text-anchor="middle" font-size="12" fill="#262626" textLength="11.3" lengthAdjust="spacingAndGlyphs">60</text>
<text x="391.8" y="610.8" text-anchor="middle" font-size="12" fill="#262626" textLength="11.3" lengthAdjust="spacingAndGlyphs">70</text>
<text x="415.9" y="610.8" text-anchor="middle" font-size="12" fill="#262626" textLength="11.3" lengthAdjust="spacingAndGlyphs">80</text>
<text x="437.1" y="610.8" text-anchor="middle" font-size="12" fill="#262626" textLength="11.3" lengthAdjust="spacingAndGlyphs">90</text>
<text x="456.1" y="610.8" text-anchor="middle" font-size="12" fill="#262626" textLength="18.1" lengthAdjust="spacingAndGlyphs">100</text>
<text x="581.2" y="610.8" text-anchor="middle" font-size="12" fill="#262626" textLength="17.5" lengthAdjust="spacingAndGlyphs">200</text>
<text x="654.3" y="610.8" text-anchor="middle" font-size="12" fill="#262626" textLength="17.5" lengthAdjust="spacingAndGlyphs">300</text>
<text x="706.3" y="610.8" text-anchor="middle" font-size="12" fill="#262626" textLength="17.5" lengthAdjust="spacingAndGlyphs">400</text>
<text x="746.5" y="610.8" text-anchor="middle" font-size="12" fill="#262626" textLength="17.5" lengthAdjust="spacingAndGlyphs">500</text>
<text x="779.4" y="610.8" text-anchor="middle" font-size="12" fill="#262626" textLength="17.5" lengthAdjust="spacingAndGlyphs">600</text>
<text x="807.2" y="610.8" text-anchor="middle" font-size="12" fill="#262626" textLength="17.5" lengthAdjust="spacingAndGlyphs">700</text>
<text x="852.6" y="610.8" text-anchor="middle" font-size="12" fill="#262626" textLength="17.5" lengthAdjust="spacingAndGlyphs">900</text>
<text x="871.0" y="610.8" text-anchor="middle" font-size="12" fill="#262626" textLength="11.3" lengthAdjust="spacingAndGlyphs">1k</text>
<text x="996.1" y="610.8" text-anchor="middle" font-size="12" fill="#262626" textLength="10.7" lengthAdjust="spacingAndGlyphs">2k</text>
<text x="1069.2" y="610.8" text-anchor="middle" font-size="12" fill="#262626" textLength="10.7" lengthAdjust="spacingAndGlyphs">3k</text>
<text x="1121.1" y="610.8" text-anchor="middle" font-size="12" fill="#262626" textLength="10.7" lengthAdjust="spacingAndGlyphs">4k</text>
<text x="1161.4" y="610.8" text-anchor="middle" font-size="12" fill="#262626" textLength="10.7" lengthAdjust="spacingAndGlyphs">5k</text>
<text x="1194.3" y="610.8" text-anchor="middle" font-size="12" fill="#262626" textLength="10.7" lengthAdjust="spacingAndGlyphs">6k</text>
<text x="1222.1" y="610.8" text-anchor="middle" font-size="12" fill="#262626" textLength="10.7" lengthAdjust="spacingAndGlyphs">7k</text>
<text x="1246.2" y="610.8" text-anchor="middle" font-size="12" fill="#262626" textLength="10.7" lengthAdjust="spacingAndGlyphs">8k</text>
<text x="1267.4" y="610.8" text-anchor="middle" font-size="12" fill="#262626" textLength="10.7" lengthAdjust="spacingAndGlyphs">9k</text>
<text x="1286.5" y="610.8" text-anchor="middle" font-size="12" fill="#262626" textLength="17.4" lengthAdjust="spacingAndGlyphs">10k</text>
<text x="1334.4" y="610.8" text-anchor="middle" font-size="12" fill="#9a9a9a" textLength="17.4" lengthAdjust="spacingAndGlyphs">13k</text>
<text x="1371.9" y="610.8" text-anchor="middle" font-size="12" fill="#9a9a9a" textLength="17.4" lengthAdjust="spacingAndGlyphs">16k</text>
<text x="1411.3" y="610.8" text-anchor="middle" font-size="12" fill="#262626" textLength="31.5" lengthAdjust="spacingAndGlyphs">20kHz</text>
</svg></body></html>
